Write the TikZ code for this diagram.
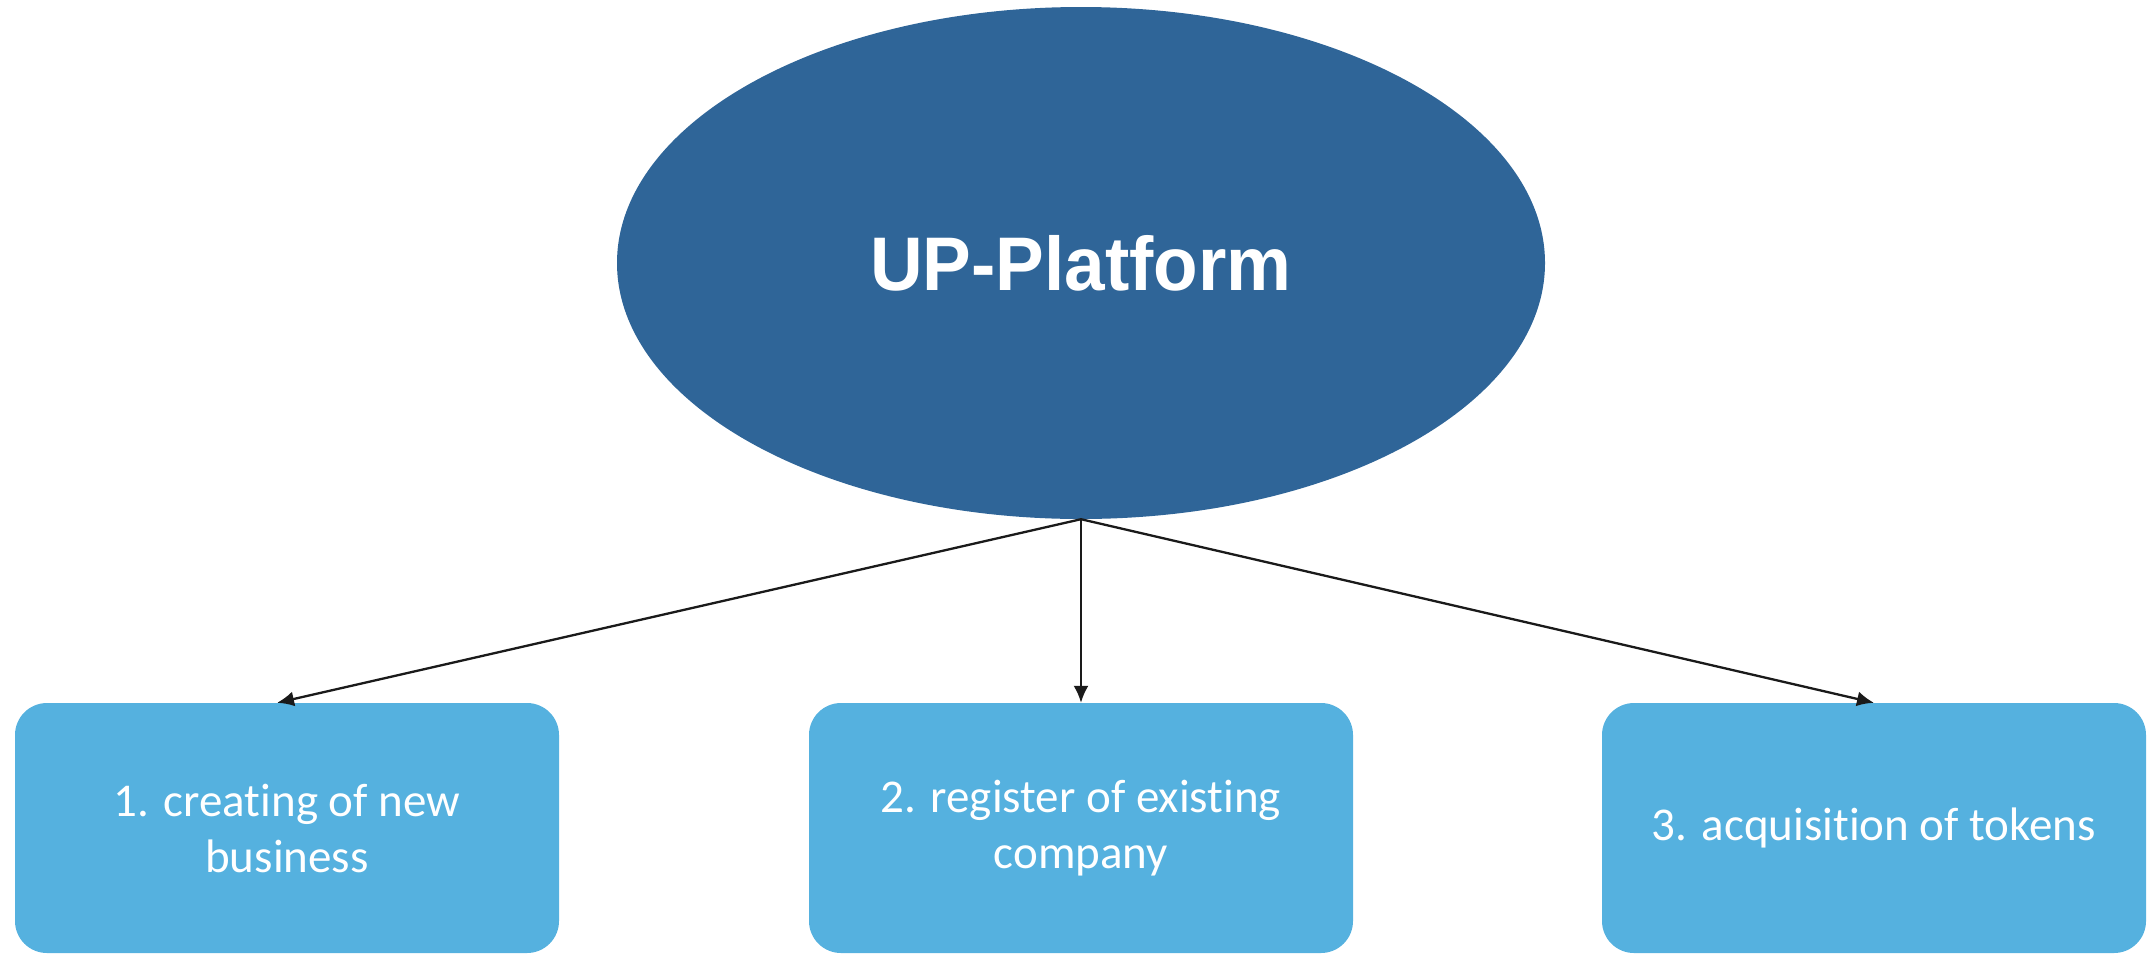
\documentclass[tikz,border=0pt]{standalone}
\usepackage{fontspec}
\setmainfont[Ligatures=NoCommon]{Carlito}
\newfontfamily\headfont{Liberation Sans}
\usetikzlibrary{arrows.meta,shapes.geometric}
\definecolor{ellblue}{RGB}{47,101,152}
\definecolor{boxblue}{RGB}{85,177,223}
\definecolor{arrowc}{RGB}{26,26,26}
\tikzset{
  mainell/.style={ellipse, fill=ellblue, draw=none, minimum width=928pt, minimum height=512pt, inner sep=0pt, text=white, font=\headfont\bfseries\fontsize{76}{80}\selectfont},
  stepbox/.style={rectangle, rounded corners=32pt, fill=boxblue, draw=none, minimum width=544pt, minimum height=250pt, inner sep=0pt, text=white, align=center, font=\fontsize{47}{56}\selectfont},
  conn/.style={draw=arrowc, line width=2.3pt, -{Latex[length=17pt,width=15pt]}}
}
\begin{document}
\begin{tikzpicture}[x=1pt,y=-1pt]
\useasboundingbox (0,0) rectangle (2150,954);
\node[mainell] (up) at (1081,263) {\scalebox{0.96}[1]{UP-Platform}};
\node[stepbox] (b1) at (287,828) {1. creating of new\\business};
\node[stepbox] (b2) at (1081,828) {2. register of existing\\company};
\node[stepbox] (b3) at (1874,828) {3. acquisition of tokens};
\draw[conn] (up.south) -- ([xshift=-10pt]b1.north);
\draw[conn] (up.south) -- (b2.north);
\draw[conn] (up.south) -- (b3.north);
\end{tikzpicture}
\end{document}
